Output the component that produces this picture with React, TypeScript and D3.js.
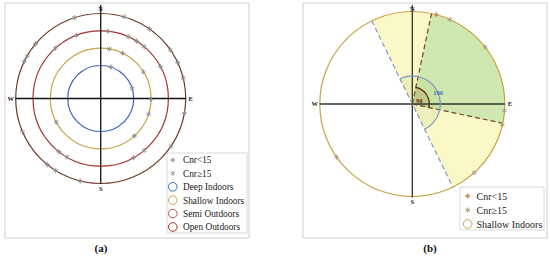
import React from "react";
import * as d3 from "d3";

// ---------- data ----------
const environments = ["Deep Indoors", "Shallow Indoors", "Semi Outdoors", "Open Outdoors"];
const envColors = ["#3566c0", "#c9a24a", "#a8332c", "#6e3a22"];
const legendColors = ["#2f6fba", "#d0a050", "#c0504d", "#9b2d2d"];

// bearings (deg) of observations per environment (panel a)
const deepBearings = [18, 72];
const shallowBearings = [10, 26, 58, 91, 108, 138, 242];
const semiBearings = [6, 24, 32, 40, 62, 140, 151, 210, 218, 318, 339];
const openBearings = [16, 35, 55, 65, 76, 100, 124, 194, 212, 219, 247, 296, 300, 310, 342];
const bearingsByEnv = [deepBearings, shallowBearings, semiBearings, openBearings];

// panel b
const halfPlane = [-26, 154]; // 180° sector
const quarter = [12, 102]; // 90° sector
const panelBBearings = [15, 24, 52, 94, 103, 138, 235];
const panelBHigh = [false, true, true, true, true, true, true];

const compass = ["N", "E", "S", "W"];

// ---------- helpers ----------
const angle = d3.scaleLinear().domain([0, 360]).range([0, 2 * Math.PI]);
const pt = (deg: number, r: number): [number, number] => {
  const a = angle(deg);
  return [Math.sin(a) * r, -Math.cos(a) * r];
};

function Star({ x, y, type, color }: { x: number; y: number; type: number; color: string }) {
  const s = 2.6;
  if (type === 0) {
    const p = `M${x},${y - s}L${x + 0.8},${y - 0.8}L${x + s},${y}L${x + 0.8},${y + 0.8}L${x},${y + s}L${x - 0.8},${y + 0.8}L${x - s},${y}L${x - 0.8},${y - 0.8}Z`;
    return <path d={p} fill={color} stroke={color} strokeWidth={0.4} />;
  }
  const lines = [0, 60, 120].map((d) => {
    const [dx, dy] = pt(d, s);
    return <line key={d} x1={x - dx} y1={y - dy} x2={x + dx} y2={y + dy} stroke={color} strokeWidth={0.9} />;
  });
  return <g>{lines}</g>;
}

function Compass({ cx, cy, r, extT, extB, color, dx }: any) {
  const top = cy - r - extT;
  const bot = cy + r + extB;
  const pos = [
    [cx, top + 5.5, "middle"],
    [cx + r + dx, cy + 2.3, "middle"],
    [cx, bot + 6.5, "middle"],
    [cx - r - dx, cy + 2.3, "middle"],
  ];
  return (
    <g>
      <line x1={cx} y1={top} x2={cx} y2={bot} stroke={color} strokeWidth={1.3} />
      <line x1={cx - r} y1={cy} x2={cx + r} y2={cy} stroke={color} strokeWidth={1.3} />
      {compass.map((c, i) => (
        <text key={c} x={pos[i][0] as number} y={pos[i][1] as number} textAnchor={pos[i][2] as any}
          fontSize={6.5} fontWeight="bold" fill="#222">{c}</text>
      ))}
    </g>
  );
}

export default function App() {
  // panel a
  const ax = 100.7, ay = 98.5;
  const ringR = d3.scaleLinear().domain([0, 3]).range([33, 85]);

  // panel b
  const bx = 412.3, by = 104, br = 92.5;
  const arcGen = d3.arc();
  const sector = (a0: number, a1: number, r: number) =>
    arcGen({ innerRadius: 0, outerRadius: r, startAngle: angle(a0), endAngle: angle(a1) }) as string;
  const arcOnly = (a0: number, a1: number, r: number) => {
    const p0 = pt(a0, r);
    const p1 = pt(a1, r);
    const large = a1 - a0 > 180 ? 1 : 0;
    return `M${p0[0]},${p0[1]}A${r},${r} 0 ${large} 1 ${p1[0]},${p1[1]}`;
  };

  const legA = ["Cnr<15", "Cnr≥15", ...environments];
  const legB = ["Cnr<15", "Cnr≥15", "Shallow Indoors"];

  return (
    <svg width={550} height={265} style={{ position: "absolute", left: 0, top: 0, background: "#fff",
      fontFamily: "'Liberation Serif', 'Times New Roman', serif" }}>
      {/* ---------- panel a ---------- */}
      <rect x={5} y={3} width={244} height={235} fill="#fff" stroke="#cfcfcf" strokeWidth={1} />
      {environments.map((e, i) => (
        <circle key={e} cx={ax} cy={ay} r={ringR(i)} fill="none" stroke={envColors[i]} strokeWidth={1.2} />
      ))}
      <Compass cx={ax} cy={ay} r={85} extT={8.5} extB={0.5} color="#111" dx={5} />
      {bearingsByEnv.map((arr, i) =>
        arr.map((b, j) => {
          const [x, y] = pt(b, ringR(i));
          return <Star key={`${i}-${j}`} x={ax + x} y={ay + y} type={(i + j) % 2} color="#8e8e8e" />;
        })
      )}
      <rect x={167} y={153} width={80} height={80} fill="#fff" stroke="#d0d0d0" strokeWidth={0.8} />
      {legA.map((t, i) => {
        const y = 160 + i * 13.4;
        return (
          <g key={t}>
            {i < 2 ? (
              <Star x={172.8} y={y} type={i} color="#999" />
            ) : (
              <circle cx={172.8} cy={y} r={4.3} fill="none" stroke={legendColors[i - 2]} strokeWidth={1} />
            )}
            <text x={183} y={y + 3.3} fontSize={9.3} fill="#222">{t}</text>
          </g>
        );
      })}
      <text x={101} y={252} textAnchor="middle" fontSize={11} fontWeight="bold" fill="#111">(a)</text>

      {/* ---------- panel b ---------- */}
      <rect x={303} y={3} width={244} height={235} fill="#fff" stroke="#cfcfcf" strokeWidth={1} />
      <g transform={`translate(${bx},${by})`}>
        <path d={sector(halfPlane[0], halfPlane[1], br)} fill="#fbf8c8" />
        <path d={sector(quarter[0], quarter[1], br)} fill="#cfe8b0" />
        <path d={sector(halfPlane[0], halfPlane[1], 28)} fill="rgba(175,190,110,0.16)" />
        <path d={sector(quarter[0], quarter[1], 17)} fill="rgba(175,140,70,0.28)" />
      </g>
      <circle cx={bx} cy={by} r={br} fill="none" stroke="#c9a24a" strokeWidth={1.2} />
      <Compass cx={bx} cy={by} r={br} extT={6.5} extB={1} color="#333" dx={5} />
      <g transform={`translate(${bx},${by})`}>
        {(() => {
          const p0 = pt(halfPlane[0], br);
          const p1 = pt(halfPlane[1], br);
          return <line x1={p0[0]} y1={p0[1]} x2={p1[0]} y2={p1[1]} stroke="#7f99c4" strokeWidth={1.2} strokeDasharray="5,3" />;
        })()}
        {quarter.map((q) => {
          const p = pt(q, br);
          return <line key={q} x1={0} y1={0} x2={p[0]} y2={p[1]} stroke="#6b4a26" strokeWidth={1.2} strokeDasharray="5,3" />;
        })}
        <path d={arcOnly(halfPlane[0], halfPlane[1], 28)} fill="none" stroke="#7f99c4" strokeWidth={1.2} />
        <path d={arcOnly(quarter[0], quarter[1], 17)} fill="none" stroke="#4a2e14" strokeWidth={1.3} />
        <text x={21} y={-9} fontSize={6.5} fill="#4a78b8" fontWeight="bold">180</text>
        <text x={7} y={-1.5} textAnchor="middle" fontSize={6.5} fill="#5a2a10" fontWeight="bold">90</text>
        {panelBBearings.map((b, i) => {
          const [x, y] = pt(b, br);
          return <Star key={i} x={x} y={y} type={panelBHigh[i] ? 1 : 0} color={panelBHigh[i] ? "#a89a80" : "#c88848"} />;
        })}
      </g>
      <rect x={460} y={187} width={84} height={43} fill="#fff" stroke="#d0d0d0" strokeWidth={0.8} />
      {legB.map((t, i) => {
        const y = 196 + i * 14;
        return (
          <g key={t}>
            {i === 0 && <Star x={467.7} y={y} type={0} color="#c8803c" />}
            {i === 1 && <Star x={467.7} y={y} type={1} color="#a89870" />}
            {i === 2 && <circle cx={467.7} cy={y} r={4.3} fill="none" stroke="#c9a24a" strokeWidth={1} />}
            <text x={476.5} y={y + 3.5} fontSize={10} fill="#222">{t}</text>
          </g>
        );
      })}
      <text x={430} y={252} textAnchor="middle" fontSize={11} fontWeight="bold" fill="#111">(b)</text>
    </svg>
  );
}
